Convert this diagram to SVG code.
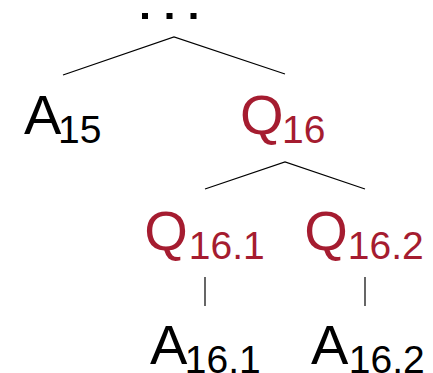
<svg xmlns="http://www.w3.org/2000/svg" width="433" height="373" viewBox="0 0 433 373">
  <style>
    text { font-family: "Liberation Sans", Arial, Helvetica, sans-serif; }
    .main { font-size: 56px; }
    .sub { font-size: 39px; }
    .ans { fill: #000000; }
    .qst { fill: #a51c30; }
    .edge { stroke: #000000; stroke-width: 1.2; fill: none; }
  </style>
  <rect width="433" height="373" fill="#ffffff"/>

  <!-- ellipsis above the root -->
  <g id="ellipsis" fill="#000000">
    <rect x="142" y="13" width="6" height="6"/>
    <rect x="166.5" y="13" width="6" height="6"/>
    <rect x="190.5" y="13" width="6" height="6"/>
  </g>

  <g id="connectors">
    <polyline class="edge" points="63,75 174,37 285,74"/>
    <polyline class="edge" points="205,189 285,162 365,189"/>
    <line class="edge" x1="205" y1="277" x2="205" y2="306"/>
    <line class="edge" x1="365" y1="277" x2="365" y2="306"/>
  </g>

  <g id="A15">
    <text class="main ans" x="24" y="134">A</text>
    <text class="sub ans" x="58" y="143">15</text>
  </g>

  <g id="Q16">
    <text class="main qst" x="240" y="134">Q</text>
    <text class="sub qst" x="282" y="143">16</text>
  </g>

  <g id="Q16_1">
    <text class="main qst" x="144.3" y="250">Q</text>
    <text class="sub qst" x="188.8" y="259">16.1</text>
  </g>

  <g id="Q16_2">
    <text class="main qst" x="304.3" y="250">Q</text>
    <text class="sub qst" x="347.8" y="259">16.2</text>
  </g>

  <g id="A16_1">
    <text class="main ans" x="150" y="364">A</text>
    <text class="sub ans" x="184.8" y="373">16.1</text>
  </g>

  <g id="A16_2">
    <text class="main ans" x="311" y="364">A</text>
    <text class="sub ans" x="348.8" y="373">16.2</text>
  </g>
</svg>
